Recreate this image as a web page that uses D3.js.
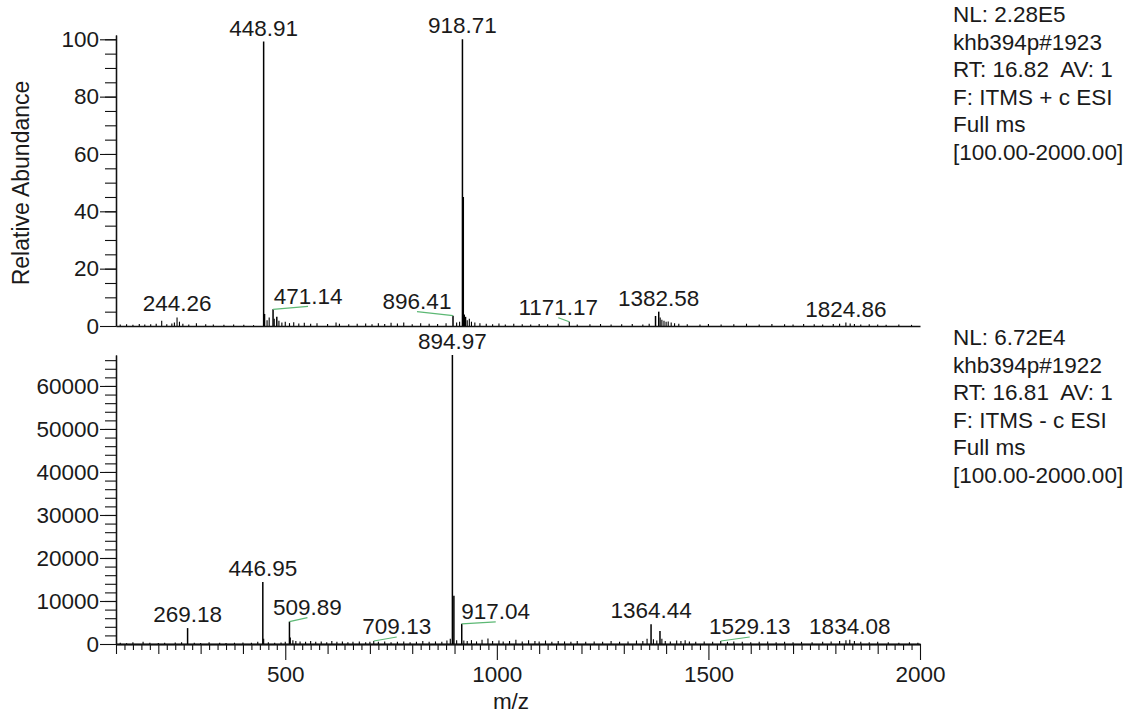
<!DOCTYPE html>
<html>
<head>
<meta charset="utf-8">
<script src="https://cdn.jsdelivr.net/npm/d3@7"></script>
<style>
  html, body { margin: 0; padding: 0; background: #fff; }
  svg { display: block; }
  text { font-family: "Liberation Sans", Arial, sans-serif; fill: #1a1a1a; white-space: pre; }
</style>
</head>
<body>
<svg id="chart" width="1133" height="713"></svg>
<script>
// ---------------- DATA ----------------
// Top spectrum (positive mode), relative abundance %
const topMz = [110,125,140,155,168,182,195,208,220,232,238,244.26,250,258,272,290,312,330,355,378,402,425,
  448.91,451,457,462,471.14,474,480,485,492,500,510,520,532,545,560,575,600,620,628,650,670,690,705,720,735,750,765,780,800,820,840,860,880,
  896.41,905,912,918.71,920.7,923,926,930,935,940,948,960,975,990,1005,1020,1040,1060,1080,1100,1120,1145,1171.17,1190,1220,1245,1270,1295,1320,1345,1360,
  1375,1382.58,1386,1390,1395,1400,1405,1412,1420,1430,1450,1480,1500,1530,1560,1590,1620,1650,1680,1700,1725,1750,1770,1795,1810,1824.86,1835,1845,1860,1880,1900,1920,1950,1980];
const topRel = [0.5,0.6,0.4,0.7,0.5,0.6,0.8,1.8,0.6,0.9,1.2,3.0,1.5,0.8,0.5,1.0,0.6,0.5,0.4,0.5,0.4,0.3,
  99.2,4.2,2.0,3.0,5.8,2.5,3.2,1.8,1.2,1.5,1.0,1.3,0.9,1.1,0.8,1.0,0.7,1.2,0.8,0.6,0.8,0.9,0.6,1.0,0.7,1.1,0.9,1.2,0.6,1.0,0.8,0.7,1.0,
  3.6,1.2,1.5,100,45,4.0,3.2,2.0,2.5,1.5,1.2,1.0,0.8,0.6,0.9,0.5,0.8,0.6,0.5,0.7,0.6,0.8,1.5,0.5,0.6,0.7,0.5,0.6,0.7,0.5,0.8,
  3.5,5.0,3.0,2.2,1.8,1.5,1.6,1.2,1.0,0.8,0.6,0.5,0.7,0.5,0.6,0.8,0.5,0.7,0.6,0.5,0.7,0.6,0.5,0.7,0.8,1.2,0.9,0.7,0.5,0.6,0.5,0.4,0.5,0.4];

// Bottom spectrum (negative mode), absolute intensity
const botMz = [110,125,140,164,180,200,215,240,255,269.18,285,300,320,345,360,380,400,420,435,446.95,449,460,475,490,500,
  509.89,512,518,525,535,548,560,572,585,598,610,622,635,648,660,675,690,700,709.13,720,735,750,765,780,795,810,825,840,855,870,882,890,
  894.97,898.5,905,917.04,922,930,940,952,965,979,990,1005,1015,1030,1045,1060,1075,1090,1100,1115,1130,1145,1160,1175,1190,1210,1230,1250,1270,1290,1310,1330,1345,1355,
  1364.44,1370,1378,1385.5,1390,1398,1410,1425,1435,1445,1455,1470,1490,1510,1529.13,1545,1560,1580,1600,1620,1640,1660,1680,1700,1720,1745,1770,1790,1810,1825,1834.08,1845,1860,1880,1900,1925,1950,1975,1995];
const botInt = [300,200,400,500,300,250,300,350,400,3700,300,250,400,300,250,300,350,300,500,14400,1200,400,300,350,500,
  5200,1500,900,700,600,500,700,500,600,400,700,500,600,400,500,600,400,500,700,500,600,400,500,600,400,500,700,500,600,500,800,1200,
  67200,11200,900,4700,800,700,900,600,1000,1300,700,800,600,700,1000,600,900,700,600,800,500,700,600,500,700,500,600,500,700,500,600,800,700,1200,
  4600,1100,800,3000,1200,700,600,800,700,900,600,500,600,500,700,500,600,500,400,500,600,400,500,400,500,400,500,600,700,900,1000,700,500,400,500,400,300,400,300];

// Labelled peaks
const topLabels = ["448.91","918.71","244.26","471.14","896.41","1171.17","1382.58","1824.86"];
const botLabels = ["894.97","446.95","269.18","509.89","709.13","917.04","1364.44","1529.13","1834.08"];

// Tick values
const topYMajor = [0,20,40,60,80,100];
const botYMajor = [0,10000,20000,30000,40000,50000,60000];
const xMajor = [500,1000,1500,2000];

// Header text blocks
const topInfo = ["NL: 2.28E5","khb394p#1923","RT: 16.82  AV: 1","F: ITMS + c ESI","Full ms","[100.00-2000.00]"];
const botInfo = ["NL: 6.72E4","khb394p#1922","RT: 16.81  AV: 1","F: ITMS - c ESI","Full ms","[100.00-2000.00]"];

const yTitle = "Relative Abundance";
const xTitle = "m/z";

// ---------------- LAYOUT ----------------
// leader-line offsets (px) for labels displaced from their peaks
const leaderOffsets = {
  "471.14": [35,-3], "896.41": [-36,-4], "1171.17": [-11,-4],
  "509.89": [18,-4], "709.13": [23,-4], "917.04": [34,-2], "1529.13": [29,-4]
};

const FS = 22.5;
const svg = d3.select("#chart");

const x = d3.scaleLinear().domain([100,2000]).range([116,920]);
const yTop = d3.scaleLinear().domain([0,101.5]).range([326,35]);
const yBot = d3.scaleLinear().domain([0,67200]).range([644,355]);

function styleAxis(g) {
  g.selectAll("path.domain").attr("stroke","#111").attr("stroke-width",1.3);
  g.selectAll(".tick line").attr("stroke","#111").attr("stroke-width",1.1);
  g.selectAll(".tick text").style("font-size",FS+"px").attr("fill","#1a1a1a")
    .style("font-family",'"Liberation Sans", Arial, sans-serif');
}

// ---- Top panel axes ----
svg.append("g").attr("transform","translate(116,0)")
  .call(d3.axisLeft(yTop).tickValues(d3.range(5,101,5)).tickSize(11).tickFormat("").tickSizeOuter(0))
  .call(styleAxis);
svg.append("g").attr("transform","translate(116,0)")
  .call(d3.axisLeft(yTop).tickValues(topYMajor).tickSize(16).tickPadding(1).tickFormat(d3.format("d")).tickSizeOuter(0))
  .call(styleAxis);
svg.append("g").attr("transform",`translate(0,${yTop(0)})`)
  .call(d3.axisBottom(x).tickValues([]).tickSizeOuter(0))
  .call(styleAxis);

// ---- Bottom panel axes ----
svg.append("g").attr("transform","translate(116,0)")
  .call(d3.axisLeft(yBot).tickValues(d3.range(2000,67000,2000)).tickSize(11).tickFormat("").tickSizeOuter(0))
  .call(styleAxis);
svg.append("g").attr("transform","translate(116,0)")
  .call(d3.axisLeft(yBot).tickValues(botYMajor).tickSize(16).tickPadding(1).tickFormat(d3.format("d")).tickSizeOuter(0))
  .call(styleAxis);
svg.append("g").attr("transform",`translate(0,${yBot(0)})`)
  .call(d3.axisBottom(x).tickValues(d3.range(120,2000,20).filter(v=>v%100!==0)).tickSize(6).tickFormat("").tickSizeOuter(0))
  .call(styleAxis);
svg.append("g").attr("transform",`translate(0,${yBot(0)})`)
  .call(d3.axisBottom(x).tickValues(d3.range(100,2001,100).filter(v=>v%500!==0)).tickSize(10).tickFormat("").tickSizeOuter(0))
  .call(styleAxis);
svg.append("g").attr("transform",`translate(0,${yBot(0)})`)
  .call(d3.axisBottom(x).tickValues(xMajor).tickSize(16).tickPadding(6).tickFormat(d3.format("d")).tickSizeOuter(0))
  .call(styleAxis);

// ---- Peaks ----
function drawPeaks(mz, vals, y) {
  svg.append("g").selectAll("line").data(mz.map((m,i)=>({m, v: vals[i]}))).join("line")
    .attr("x1", d=>x(d.m)).attr("x2", d=>x(d.m))
    .attr("y1", y(0)).attr("y2", d=>y(d.v))
    .attr("stroke","#000").attr("stroke-width", d=> d.v > y.domain()[1]*0.03 ? 1.5 : 1.1);
}
drawPeaks(topMz, topRel, yTop);
drawPeaks(botMz, botInt, yBot);

// ---- Peak labels ----
function drawLabels(labels, mz, vals, y) {
  const g = svg.append("g");
  labels.forEach(lab => {
    const m = +lab;
    const i = mz.indexOf(m);
    const px = x(m), py = y(vals[i]);
    const off = leaderOffsets[lab];
    let tx, ty;
    if (off) {
      const ex = px + off[0], ey = py + off[1];
      g.append("line").attr("x1",px).attr("y1",py).attr("x2",ex).attr("y2",ey)
        .attr("stroke","#5cb874").attr("stroke-width",1.2);
      tx = ex; ty = ey - 2.5;
    } else {
      tx = px; ty = py - 6;
    }
    g.append("text").attr("x",tx).attr("y",ty).attr("text-anchor","middle")
      .style("font-size",FS+"px").text(lab);
  });
}
drawLabels(topLabels, topMz, topRel, yTop);
drawLabels(botLabels, botMz, botInt, yBot);

// ---- Axis titles ----
svg.append("text").attr("transform","translate(29,183) rotate(-90)")
  .attr("text-anchor","middle").style("font-size","23px").text(yTitle);
svg.append("text").attr("x",511).attr("y",709).attr("text-anchor","middle")
  .style("font-size",FS+"px").text(xTitle);

// ---- Info blocks ----
function drawInfo(lines, y0) {
  svg.append("g").selectAll("text").data(lines).join("text")
    .attr("x",953).attr("y",(d,i)=>y0 + i*27.5)
    .attr("xml:space","preserve")
    .style("font-size",FS+"px").text(d=>d);
}
drawInfo(topInfo, 22);
drawInfo(botInfo, 345);
</script>
</body>
</html>
